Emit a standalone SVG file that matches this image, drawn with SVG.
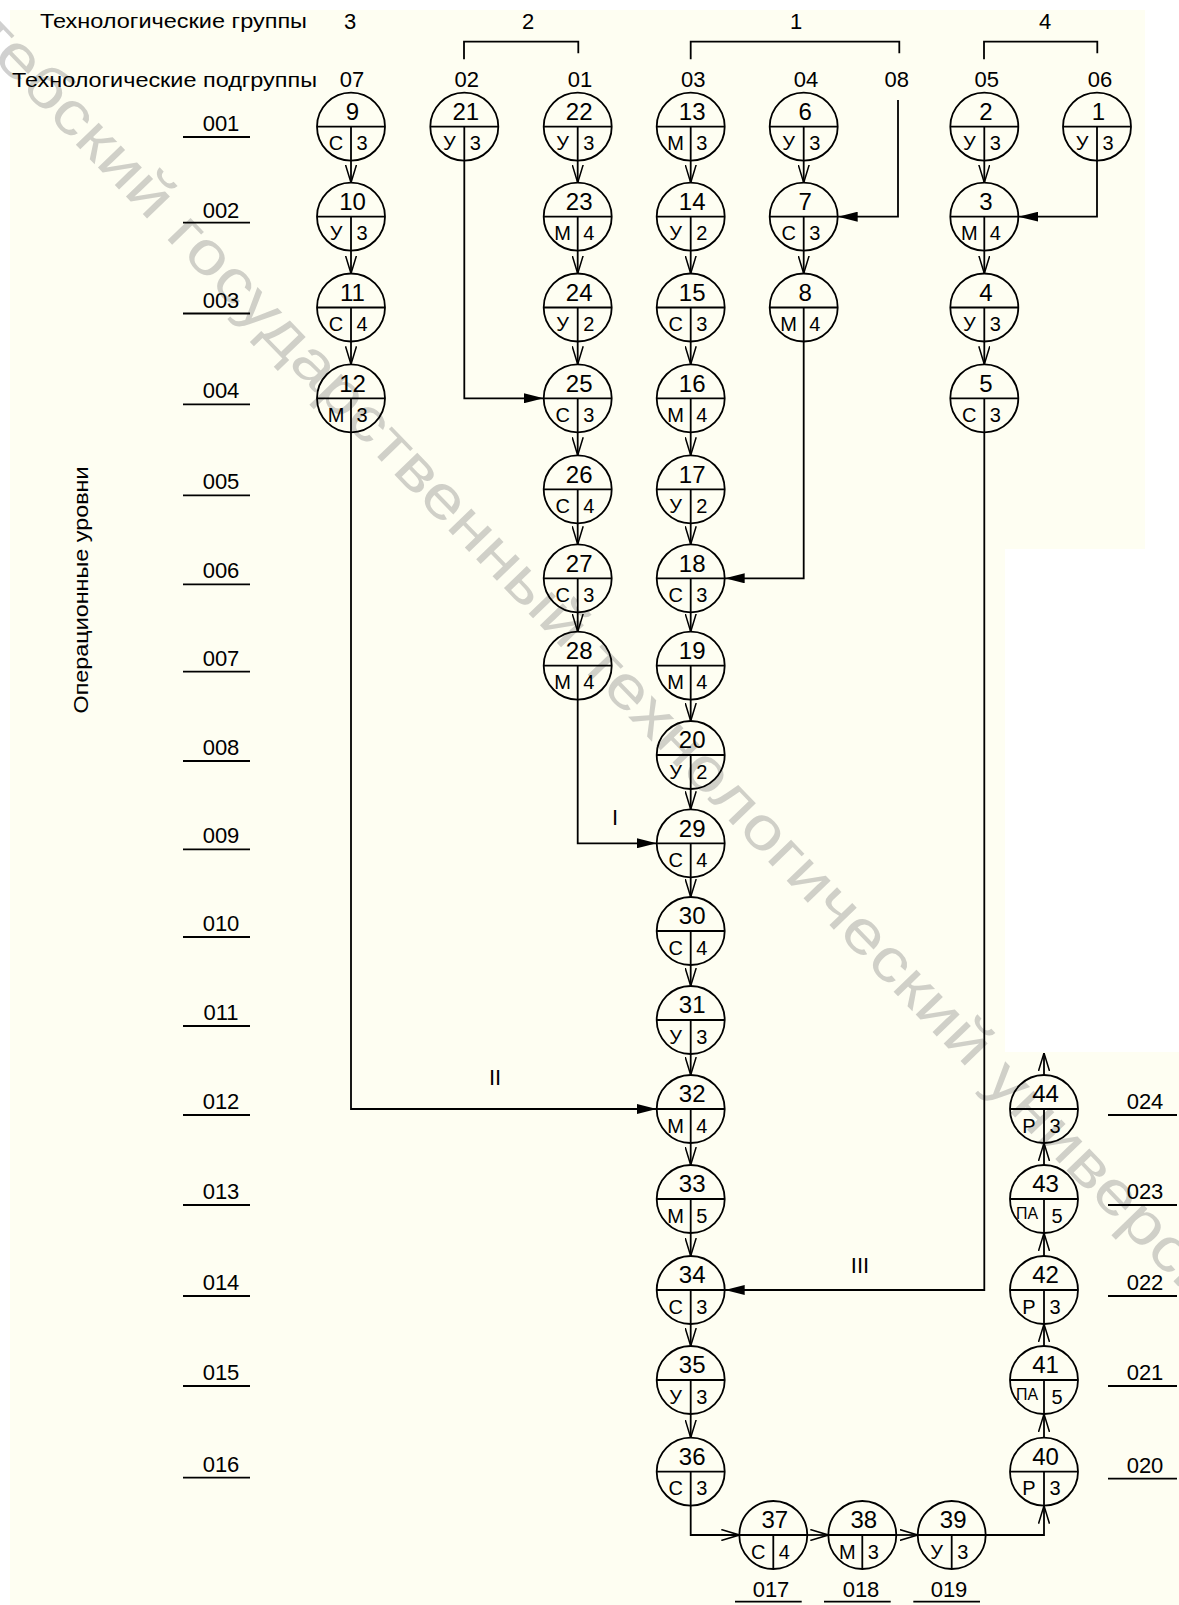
<svg xmlns="http://www.w3.org/2000/svg" width="1179" height="1605" viewBox="0 0 1179 1605">
<style>
text{font-family:"Liberation Sans",Arial,sans-serif;fill:#000}
.node circle{fill:none;stroke:#000;stroke-width:1.8}
.node path{fill:none;stroke:#000;stroke-width:1.8}
.num{font-size:24px;text-anchor:middle}
.op{font-size:20px;text-anchor:middle}
.pa{font-size:16px;text-anchor:middle}
.hdr{font-size:21px}
.sub{font-size:22px;text-anchor:middle}
.lvl{font-size:22px;text-anchor:middle}
.ul{stroke:#000;stroke-width:1.8;fill:none}
#connectors path{fill:none;stroke:#000;stroke-width:1.8}
.ao{marker-end:url(#ao)}
.af{marker-end:url(#af)}
.rom{font-size:22px;text-anchor:middle}
</style>
<defs>
<marker id="ao" viewBox="0 0 18 12" refX="18" refY="6" markerWidth="18" markerHeight="12" markerUnits="userSpaceOnUse" orient="auto"><path d="M0 0.5L18 6L0 11.5" fill="none" stroke="#000" stroke-width="1.5"/></marker>
<marker id="af" viewBox="0 0 20 10" refX="20" refY="5" markerWidth="20" markerHeight="10" markerUnits="userSpaceOnUse" orient="auto"><path d="M0 0L20 5L0 10Z" fill="#000"/></marker>
</defs>
<rect width="1179" height="1605" fill="#fff"/>
<path d="M10 10H1145V549H1005V1052H1179V1605H10Z" fill="#fefef2"/>
<text transform="translate(-92 -29) rotate(46)" font-size="60" textLength="1960" lengthAdjust="spacingAndGlyphs" style="fill:#808080" opacity="0.36">Витебский государственный технологический университет</text>

<g id="headers">
<text class="hdr" x="40" y="28" textLength="267" lengthAdjust="spacingAndGlyphs">Технологические группы</text>
<text class="hdr" x="12" y="87" textLength="305" lengthAdjust="spacingAndGlyphs">Технологические подгруппы</text>
<text class="sub" x="350" y="29">3</text>
<text class="sub" x="528" y="29">2</text>
<text class="sub" x="796" y="29">1</text>
<text class="sub" x="1045" y="29">4</text>
<path class="ul" d="M464 59.3V41.7H578.3V53.3M690.7 59.3V41.7H899.3V53.3M984 59.3V41.7H1097.3V53.3"/>
<text class="sub" x="352" y="87">07</text>
<text class="sub" x="466.7" y="87">02</text>
<text class="sub" x="580" y="87">01</text>
<text class="sub" x="693.3" y="87">03</text>
<text class="sub" x="806" y="87">04</text>
<text class="sub" x="896.7" y="87">08</text>
<text class="sub" x="986.7" y="87">05</text>
<text class="sub" x="1100" y="87">06</text>
<text class="hdr" transform="translate(88 590) rotate(-90)" text-anchor="middle" font-size="22" textLength="247" lengthAdjust="spacingAndGlyphs">Операционные уровни</text>
</g>

<g id="levels">
<text class="lvl" x="221" y="131">001</text><path class="ul" d="M183 137H250"/>
<text class="lvl" x="221" y="218">002</text><path class="ul" d="M183 222.7H250"/>
<text class="lvl" x="221" y="307.5">003</text><path class="ul" d="M183 313.5H250"/>
<text class="lvl" x="221" y="398.3">004</text><path class="ul" d="M183 404.3H250"/>
<text class="lvl" x="221" y="489.3">005</text><path class="ul" d="M183 495.3H250"/>
<text class="lvl" x="221" y="578.3">006</text><path class="ul" d="M183 584.3H250"/>
<text class="lvl" x="221" y="665.7">007</text><path class="ul" d="M183 671.7H250"/>
<text class="lvl" x="221" y="755">008</text><path class="ul" d="M183 761H250"/>
<text class="lvl" x="221" y="843.3">009</text><path class="ul" d="M183 849.3H250"/>
<text class="lvl" x="221" y="931">010</text><path class="ul" d="M183 937H250"/>
<text class="lvl" x="221" y="1020">011</text><path class="ul" d="M183 1026H250"/>
<text class="lvl" x="221" y="1109">012</text><path class="ul" d="M183 1115H250"/>
<text class="lvl" x="221" y="1199">013</text><path class="ul" d="M183 1205H250"/>
<text class="lvl" x="221" y="1290">014</text><path class="ul" d="M183 1296H250"/>
<text class="lvl" x="221" y="1380">015</text><path class="ul" d="M183 1386H250"/>
<text class="lvl" x="221" y="1471.7">016</text><path class="ul" d="M183 1477.7H250"/>
<text class="lvl" x="771" y="1597">017</text><path class="ul" d="M735 1601.7H801.7"/>
<text class="lvl" x="861" y="1597">018</text><path class="ul" d="M824 1601.7H890.7"/>
<text class="lvl" x="949" y="1597">019</text><path class="ul" d="M913.3 1601.7H980"/>
<text class="lvl" x="1145" y="1472.7">020</text><path class="ul" d="M1108 1478.7H1177"/>
<text class="lvl" x="1145" y="1380">021</text><path class="ul" d="M1108 1386H1177"/>
<text class="lvl" x="1145" y="1290">022</text><path class="ul" d="M1108 1296H1177"/>
<text class="lvl" x="1145" y="1199">023</text><path class="ul" d="M1108 1205H1177"/>
<text class="lvl" x="1145" y="1109">024</text><path class="ul" d="M1108 1115H1177"/>
</g>

<g id="connectors">
<path class="ao" d="M351 160.7V182.7"/>
<path class="ao" d="M351 250.7V273.5"/>
<path class="ao" d="M351 341.5V364.3"/>
<path class="ao" d="M577.7 160.7V182.7"/>
<path class="ao" d="M577.7 250.7V273.5"/>
<path class="ao" d="M577.7 341.5V364.3"/>
<path class="ao" d="M577.7 432.3V455.3"/>
<path class="ao" d="M577.7 523.3V544.3"/>
<path class="ao" d="M577.7 612.3V631.7"/>
<path class="ao" d="M690.7 160.7V182.7"/>
<path class="ao" d="M690.7 250.7V273.5"/>
<path class="ao" d="M690.7 341.5V364.3"/>
<path class="ao" d="M690.7 432.3V455.3"/>
<path class="ao" d="M690.7 523.3V544.3"/>
<path class="ao" d="M690.7 612.3V631.7"/>
<path class="ao" d="M690.7 699.7V721"/>
<path class="ao" d="M690.7 789V809.3"/>
<path class="ao" d="M690.7 877.3V897"/>
<path class="ao" d="M690.7 965V986"/>
<path class="ao" d="M690.7 1054V1075"/>
<path class="ao" d="M690.7 1143V1165"/>
<path class="ao" d="M690.7 1233V1256"/>
<path class="ao" d="M690.7 1324V1346"/>
<path class="ao" d="M690.7 1414V1437.7"/>
<path class="ao" d="M803.7 160.7V182.7"/>
<path class="ao" d="M803.7 250.7V273.5"/>
<path class="ao" d="M984.3 160.7V182.7"/>
<path class="ao" d="M984.3 250.7V273.5"/>
<path class="ao" d="M984.3 341.5V364.3"/>
<path class="af" d="M464.3 160.7V398.3H543.7"/>
<path class="af" d="M898 100V216.7H837.7"/>
<path class="af" d="M1097 160.7V216.7H1018.3"/>
<path class="af" d="M803.7 341.5V578.3H724.7"/>
<path class="af" d="M577.7 699.7V843.3H656.7"/>
<path class="af" d="M351 432.3V1109H656.7"/>
<path class="af" d="M984.3 432.3V1290H724.7"/>
<path class="ao" d="M690.7 1505.7V1535H739.3"/>
<path class="ao" d="M807.3 1535H828.3"/>
<path class="ao" d="M896.3 1535H917.7"/>
<path class="ao" d="M985.7 1535H1044V1505.7"/>
<path class="ao" d="M1044 1437.7V1414"/>
<path class="ao" d="M1044 1346V1324"/>
<path class="ao" d="M1044 1256V1233"/>
<path class="ao" d="M1044 1165V1143"/>
<path class="ao" d="M1044 1075V1053"/>
<text class="rom" x="615" y="825">I</text>
<text class="rom" x="495" y="1085">II</text>
<text class="rom" x="860" y="1273">III</text>
</g>

<g id="node-9" class="node" transform="translate(351 126.7)"><circle r="34"/><path d="M-34 0H34M0 0V34"/><text class="num" x="1.5" y="-6.7">9</text><text class="op" x="-15" y="23.5">С</text><text class="op" x="11" y="23.5">3</text></g>
<g id="node-10" class="node" transform="translate(351 216.7)"><circle r="34"/><path d="M-34 0H34M0 0V34"/><text class="num" x="1.5" y="-6.7">10</text><text class="op" x="-15" y="23.5">У</text><text class="op" x="11" y="23.5">3</text></g>
<g id="node-11" class="node" transform="translate(351 307.5)"><circle r="34"/><path d="M-34 0H34M0 0V34"/><text class="num" x="1.5" y="-6.7">11</text><text class="op" x="-15" y="23.5">С</text><text class="op" x="11" y="23.5">4</text></g>
<g id="node-12" class="node" transform="translate(351 398.3)"><circle r="34"/><path d="M-34 0H34M0 0V34"/><text class="num" x="1.5" y="-6.7">12</text><text class="op" x="-15" y="23.5">М</text><text class="op" x="11" y="23.5">3</text></g>

<g id="node-21" class="node" transform="translate(464.3 126.7)"><circle r="34"/><path d="M-34 0H34M0 0V34"/><text class="num" x="1.5" y="-6.7">21</text><text class="op" x="-15" y="23.5">У</text><text class="op" x="11" y="23.5">3</text></g>

<g id="node-22" class="node" transform="translate(577.7 126.7)"><circle r="34"/><path d="M-34 0H34M0 0V34"/><text class="num" x="1.5" y="-6.7">22</text><text class="op" x="-15" y="23.5">У</text><text class="op" x="11" y="23.5">3</text></g>
<g id="node-23" class="node" transform="translate(577.7 216.7)"><circle r="34"/><path d="M-34 0H34M0 0V34"/><text class="num" x="1.5" y="-6.7">23</text><text class="op" x="-15" y="23.5">М</text><text class="op" x="11" y="23.5">4</text></g>
<g id="node-24" class="node" transform="translate(577.7 307.5)"><circle r="34"/><path d="M-34 0H34M0 0V34"/><text class="num" x="1.5" y="-6.7">24</text><text class="op" x="-15" y="23.5">У</text><text class="op" x="11" y="23.5">2</text></g>
<g id="node-25" class="node" transform="translate(577.7 398.3)"><circle r="34"/><path d="M-34 0H34M0 0V34"/><text class="num" x="1.5" y="-6.7">25</text><text class="op" x="-15" y="23.5">С</text><text class="op" x="11" y="23.5">3</text></g>
<g id="node-26" class="node" transform="translate(577.7 489.3)"><circle r="34"/><path d="M-34 0H34M0 0V34"/><text class="num" x="1.5" y="-6.7">26</text><text class="op" x="-15" y="23.5">С</text><text class="op" x="11" y="23.5">4</text></g>
<g id="node-27" class="node" transform="translate(577.7 578.3)"><circle r="34"/><path d="M-34 0H34M0 0V34"/><text class="num" x="1.5" y="-6.7">27</text><text class="op" x="-15" y="23.5">С</text><text class="op" x="11" y="23.5">3</text></g>
<g id="node-28" class="node" transform="translate(577.7 665.7)"><circle r="34"/><path d="M-34 0H34M0 0V34"/><text class="num" x="1.5" y="-6.7">28</text><text class="op" x="-15" y="23.5">М</text><text class="op" x="11" y="23.5">4</text></g>

<g id="node-13" class="node" transform="translate(690.7 126.7)"><circle r="34"/><path d="M-34 0H34M0 0V34"/><text class="num" x="1.5" y="-6.7">13</text><text class="op" x="-15" y="23.5">М</text><text class="op" x="11" y="23.5">3</text></g>
<g id="node-14" class="node" transform="translate(690.7 216.7)"><circle r="34"/><path d="M-34 0H34M0 0V34"/><text class="num" x="1.5" y="-6.7">14</text><text class="op" x="-15" y="23.5">У</text><text class="op" x="11" y="23.5">2</text></g>
<g id="node-15" class="node" transform="translate(690.7 307.5)"><circle r="34"/><path d="M-34 0H34M0 0V34"/><text class="num" x="1.5" y="-6.7">15</text><text class="op" x="-15" y="23.5">С</text><text class="op" x="11" y="23.5">3</text></g>
<g id="node-16" class="node" transform="translate(690.7 398.3)"><circle r="34"/><path d="M-34 0H34M0 0V34"/><text class="num" x="1.5" y="-6.7">16</text><text class="op" x="-15" y="23.5">М</text><text class="op" x="11" y="23.5">4</text></g>
<g id="node-17" class="node" transform="translate(690.7 489.3)"><circle r="34"/><path d="M-34 0H34M0 0V34"/><text class="num" x="1.5" y="-6.7">17</text><text class="op" x="-15" y="23.5">У</text><text class="op" x="11" y="23.5">2</text></g>
<g id="node-18" class="node" transform="translate(690.7 578.3)"><circle r="34"/><path d="M-34 0H34M0 0V34"/><text class="num" x="1.5" y="-6.7">18</text><text class="op" x="-15" y="23.5">С</text><text class="op" x="11" y="23.5">3</text></g>
<g id="node-19" class="node" transform="translate(690.7 665.7)"><circle r="34"/><path d="M-34 0H34M0 0V34"/><text class="num" x="1.5" y="-6.7">19</text><text class="op" x="-15" y="23.5">М</text><text class="op" x="11" y="23.5">4</text></g>
<g id="node-20" class="node" transform="translate(690.7 755)"><circle r="34"/><path d="M-34 0H34M0 0V34"/><text class="num" x="1.5" y="-6.7">20</text><text class="op" x="-15" y="23.5">У</text><text class="op" x="11" y="23.5">2</text></g>
<g id="node-29" class="node" transform="translate(690.7 843.3)"><circle r="34"/><path d="M-34 0H34M0 0V34"/><text class="num" x="1.5" y="-6.7">29</text><text class="op" x="-15" y="23.5">С</text><text class="op" x="11" y="23.5">4</text></g>
<g id="node-30" class="node" transform="translate(690.7 931)"><circle r="34"/><path d="M-34 0H34M0 0V34"/><text class="num" x="1.5" y="-6.7">30</text><text class="op" x="-15" y="23.5">С</text><text class="op" x="11" y="23.5">4</text></g>
<g id="node-31" class="node" transform="translate(690.7 1020)"><circle r="34"/><path d="M-34 0H34M0 0V34"/><text class="num" x="1.5" y="-6.7">31</text><text class="op" x="-15" y="23.5">У</text><text class="op" x="11" y="23.5">3</text></g>
<g id="node-32" class="node" transform="translate(690.7 1109)"><circle r="34"/><path d="M-34 0H34M0 0V34"/><text class="num" x="1.5" y="-6.7">32</text><text class="op" x="-15" y="23.5">М</text><text class="op" x="11" y="23.5">4</text></g>
<g id="node-33" class="node" transform="translate(690.7 1199)"><circle r="34"/><path d="M-34 0H34M0 0V34"/><text class="num" x="1.5" y="-6.7">33</text><text class="op" x="-15" y="23.5">М</text><text class="op" x="11" y="23.5">5</text></g>
<g id="node-34" class="node" transform="translate(690.7 1290)"><circle r="34"/><path d="M-34 0H34M0 0V34"/><text class="num" x="1.5" y="-6.7">34</text><text class="op" x="-15" y="23.5">С</text><text class="op" x="11" y="23.5">3</text></g>
<g id="node-35" class="node" transform="translate(690.7 1380)"><circle r="34"/><path d="M-34 0H34M0 0V34"/><text class="num" x="1.5" y="-6.7">35</text><text class="op" x="-15" y="23.5">У</text><text class="op" x="11" y="23.5">3</text></g>
<g id="node-36" class="node" transform="translate(690.7 1471.7)"><circle r="34"/><path d="M-34 0H34M0 0V34"/><text class="num" x="1.5" y="-6.7">36</text><text class="op" x="-15" y="23.5">С</text><text class="op" x="11" y="23.5">3</text></g>

<g id="node-6" class="node" transform="translate(803.7 126.7)"><circle r="34"/><path d="M-34 0H34M0 0V34"/><text class="num" x="1.5" y="-6.7">6</text><text class="op" x="-15" y="23.5">У</text><text class="op" x="11" y="23.5">3</text></g>
<g id="node-7" class="node" transform="translate(803.7 216.7)"><circle r="34"/><path d="M-34 0H34M0 0V34"/><text class="num" x="1.5" y="-6.7">7</text><text class="op" x="-15" y="23.5">С</text><text class="op" x="11" y="23.5">3</text></g>
<g id="node-8" class="node" transform="translate(803.7 307.5)"><circle r="34"/><path d="M-34 0H34M0 0V34"/><text class="num" x="1.5" y="-6.7">8</text><text class="op" x="-15" y="23.5">М</text><text class="op" x="11" y="23.5">4</text></g>

<g id="node-2" class="node" transform="translate(984.3 126.7)"><circle r="34"/><path d="M-34 0H34M0 0V34"/><text class="num" x="1.5" y="-6.7">2</text><text class="op" x="-15" y="23.5">У</text><text class="op" x="11" y="23.5">3</text></g>
<g id="node-3" class="node" transform="translate(984.3 216.7)"><circle r="34"/><path d="M-34 0H34M0 0V34"/><text class="num" x="1.5" y="-6.7">3</text><text class="op" x="-15" y="23.5">М</text><text class="op" x="11" y="23.5">4</text></g>
<g id="node-4" class="node" transform="translate(984.3 307.5)"><circle r="34"/><path d="M-34 0H34M0 0V34"/><text class="num" x="1.5" y="-6.7">4</text><text class="op" x="-15" y="23.5">У</text><text class="op" x="11" y="23.5">3</text></g>
<g id="node-5" class="node" transform="translate(984.3 398.3)"><circle r="34"/><path d="M-34 0H34M0 0V34"/><text class="num" x="1.5" y="-6.7">5</text><text class="op" x="-15" y="23.5">С</text><text class="op" x="11" y="23.5">3</text></g>

<g id="node-1" class="node" transform="translate(1097 126.7)"><circle r="34"/><path d="M-34 0H34M0 0V34"/><text class="num" x="1.5" y="-6.7">1</text><text class="op" x="-15" y="23.5">У</text><text class="op" x="11" y="23.5">3</text></g>

<g id="node-37" class="node" transform="translate(773.3 1535)"><circle r="34"/><path d="M-34 0H34M0 0V34"/><text class="num" x="1.5" y="-6.7">37</text><text class="op" x="-15" y="23.5">С</text><text class="op" x="11" y="23.5">4</text></g>
<g id="node-38" class="node" transform="translate(862.3 1535)"><circle r="34"/><path d="M-34 0H34M0 0V34"/><text class="num" x="1.5" y="-6.7">38</text><text class="op" x="-15" y="23.5">М</text><text class="op" x="11" y="23.5">3</text></g>
<g id="node-39" class="node" transform="translate(951.7 1535)"><circle r="34"/><path d="M-34 0H34M0 0V34"/><text class="num" x="1.5" y="-6.7">39</text><text class="op" x="-15" y="23.5">У</text><text class="op" x="11" y="23.5">3</text></g>

<g id="node-40" class="node" transform="translate(1044 1471.7)"><circle r="34"/><path d="M-34 0H34M0 0V34"/><text class="num" x="1.5" y="-6.7">40</text><text class="op" x="-15" y="23.5">Р</text><text class="op" x="11" y="23.5">3</text></g>
<g id="node-41" class="node" transform="translate(1044 1380)"><circle r="34"/><path d="M-34 0H34M0 0V34"/><text class="num" x="1.5" y="-6.7">41</text><text class="pa" x="-17" y="19.5" textLength="22" lengthAdjust="spacingAndGlyphs">ПА</text><text class="op" x="13" y="23.5">5</text></g>
<g id="node-42" class="node" transform="translate(1044 1290)"><circle r="34"/><path d="M-34 0H34M0 0V34"/><text class="num" x="1.5" y="-6.7">42</text><text class="op" x="-15" y="23.5">Р</text><text class="op" x="11" y="23.5">3</text></g>
<g id="node-43" class="node" transform="translate(1044 1199)"><circle r="34"/><path d="M-34 0H34M0 0V34"/><text class="num" x="1.5" y="-6.7">43</text><text class="pa" x="-17" y="19.5" textLength="22" lengthAdjust="spacingAndGlyphs">ПА</text><text class="op" x="13" y="23.5">5</text></g>
<g id="node-44" class="node" transform="translate(1044 1109)"><circle r="34"/><path d="M-34 0H34M0 0V34"/><text class="num" x="1.5" y="-6.7">44</text><text class="op" x="-15" y="23.5">Р</text><text class="op" x="11" y="23.5">3</text></g>
</svg>
